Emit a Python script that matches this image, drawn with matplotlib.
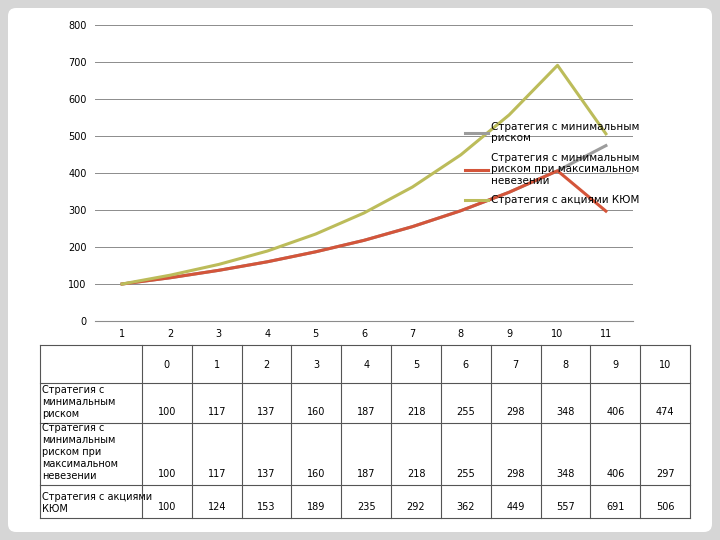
import matplotlib
matplotlib.use("Agg")
import matplotlib.pyplot as plt
from matplotlib.patches import FancyBboxPatch

# ── data ─────────────────────────────────────────────
periods = [0, 1, 2, 3, 4, 5, 6, 7, 8, 9, 10]
x_labels = ["1", "2", "3", "4", "5", "6", "7", "8", "9", "10", "11"]
min_risk = [100, 117, 137, 160, 187, 218, 255, 298, 348, 406, 474]
max_regret = [100, 117, 137, 160, 187, 218, 255, 298, 348, 406, 297]
kum = [100, 124, 153, 189, 235, 292, 362, 449, 557, 691, 506]

names = ["Стратегия с минимальным\nриском",
         "Стратегия с минимальным\nриском при максимальном\nневезении",
         "Стратегия с акциями КЮМ"]
table_names = ["Стратегия с\nминимальным\nриском",
               "Стратегия с\nминимальным\nриском при\nмаксимальном\nневезении",
               "Стратегия с акциями\nКЮМ"]
colors = ["#9c9c9c", "#d4553a", "#bcbc5a"]

plt.rcParams["font.family"] = "DejaVu Sans"
fig = plt.figure(figsize=(7.2, 5.4), dpi=100)
fig.patch.set_facecolor("#d6d6d6")

# white slide card behind everything
card = fig.add_axes([0, 0, 1, 1], zorder=-5)
card.set_xlim(0, 720)
card.set_ylim(540, 0)
card.axis("off")
card.add_patch(FancyBboxPatch((8, 8), 704, 524,
                              boxstyle="round,pad=0,rounding_size=8",
                              facecolor="white", edgecolor="none"))

# ── line chart ───────────────────────────────────────
ax = fig.add_axes([95 / 720, 1 - 321 / 540, 538 / 720, 296 / 540])
ax.patch.set_alpha(0)
xs = list(range(1, 12))
ax.plot(xs, min_risk, color=colors[0], lw=2.2, label=names[0], zorder=3)
ax.plot(xs, max_regret, color=colors[1], lw=2.2, label=names[1], zorder=4)
ax.plot(xs, kum, color=colors[2], lw=2.2, label=names[2], zorder=5)
ax.set_xlim(0.44, 11.56)
ax.set_ylim(0, 800)
ax.set_yticks(range(0, 801, 100))
ax.set_xticks(xs)
ax.set_xticklabels(x_labels)
ax.tick_params(labelsize=7, length=0, pad=6)
ax.grid(axis="y", color="#8c8c8c", lw=0.7)
ax.set_axisbelow(True)
for s in ["top", "right", "left"]:
    ax.spines[s].set_visible(False)
ax.spines["bottom"].set_color("#8c8c8c")
ax.legend(loc="upper left", bbox_to_anchor=(0.67, 0.705), frameon=False,
          fontsize=7.5, handlelength=2.2, labelspacing=0.9,
          handletextpad=0.3)

# ── table ────────────────────────────────────────────
tx = fig.add_axes([0, 0, 1, 1], facecolor="none")
tx.set_xlim(0, 720)
tx.set_ylim(540, 0)
tx.axis("off")
left, first_w, right = 40, 102, 690
col_w = (right - left - first_w) / len(periods)
rows_y = [345, 383, 423, 485, 518]
lc = "#555555"
for y in rows_y:
    tx.plot([left, right], [y, y], color=lc, lw=0.8)
xs_lines = [left, left + first_w] + [left + first_w + col_w * (i + 1) for i in range(len(periods))]
for x in xs_lines:
    tx.plot([x, x], [rows_y[0], rows_y[-1]], color=lc, lw=0.8)
for i, p in enumerate(periods):
    cx = left + first_w + col_w * (i + 0.5)
    tx.text(cx, 365, str(p), ha="center", va="center", fontsize=7)
    for r, series in enumerate([min_risk, max_regret, kum]):
        tx.text(cx, rows_y[r + 2] - 6, str(series[i]), ha="center",
                va="bottom", fontsize=7)
for r, nm in enumerate(table_names):
    tx.text(left + 2, rows_y[r + 2] - 4, nm, ha="left", va="bottom",
            fontsize=7, linespacing=1.25)

fig.savefig("out.png", dpi=100, facecolor=fig.get_facecolor())
